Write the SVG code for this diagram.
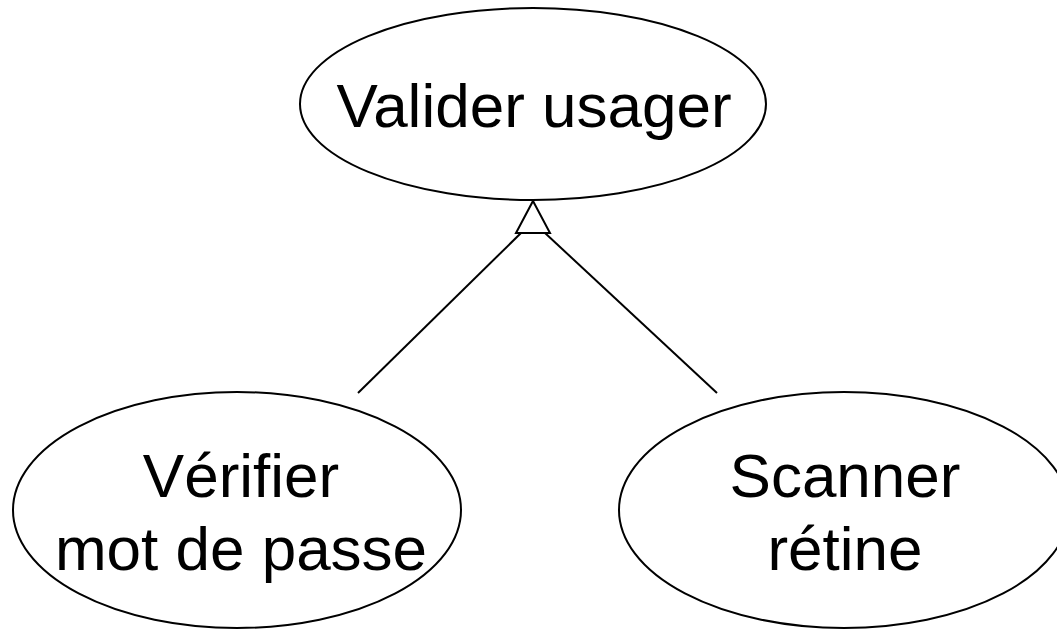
<svg xmlns="http://www.w3.org/2000/svg" width="1057" height="631" viewBox="0 0 1057 631">
  <defs>
    <style>
      .uc { fill: #ffffff; stroke: #000000; stroke-width: 2; }
      .lbl { font-family: "Liberation Sans", Arial, sans-serif; font-size: 62px; fill: #000000; text-anchor: middle; }
      .edge { fill: none; stroke: #000000; stroke-width: 2; }
      .gen { fill: #ffffff; stroke: #000000; stroke-width: 2; stroke-linejoin: miter; }
    </style>
  </defs>
  <rect width="1057" height="631" fill="#ffffff"/>

  <!-- generalisation connectors -->
  <g id="connectors">
    <line class="edge" x1="521" y1="233" x2="358" y2="393"/>
    <line class="edge" x1="545" y1="233" x2="717" y2="393"/>
    <polygon class="gen" points="533,201 550,233 516,233"/>
  </g>

  <g id="valider-usager">
    <ellipse class="uc" cx="533" cy="104" rx="233" ry="96"/>
    <text class="lbl" x="534" y="127">Valider usager</text>
  </g>

  <g id="verifier-mot-de-passe">
    <ellipse class="uc" cx="237" cy="510" rx="224" ry="118"/>
    <text class="lbl" x="241" y="497">Vérifier</text>
    <text class="lbl" x="241" y="570">mot de passe</text>
  </g>

  <g id="scanner-retine">
    <ellipse class="uc" cx="844" cy="510" rx="225" ry="118"/>
    <text class="lbl" x="845" y="497">Scanner</text>
    <text class="lbl" x="845" y="570">rétine</text>
  </g>
</svg>
